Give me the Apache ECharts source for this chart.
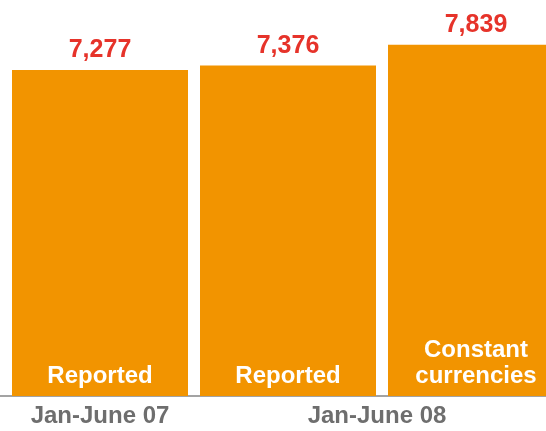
<!DOCTYPE html>
<html>
<head>
<meta charset="utf-8">
<style>
  html, body { margin: 0; padding: 0; background: #ffffff; }
  #chart { width: 546px; height: 431px; }
</style>
<script src="https://cdn.jsdelivr.net/npm/echarts@6/dist/echarts.min.js"></script>
</head>
<body>
<div id="chart"></div>
<script>
// ---- data ----
const categories = ['Jan-June 07', 'Jan-June 08', 'Jan-June 08'];
const measures = ['Reported', 'Reported', 'Constant\ncurrencies'];
const values = [7277, 7376, 7839];

const FONT = '"Liberation Sans", Arial, Helvetica, sans-serif';
const chart = echarts.init(document.getElementById('chart'), null, { renderer: 'canvas' });

chart.setOption({
  animation: false,
  backgroundColor: '#ffffff',
  grid: [
    { left: 6, right: -24, top: 0, bottom: 35, containLabel: false, outerBoundsMode: 'none' },
    { left: 0, right: 0, top: 0, bottom: 35, containLabel: false, outerBoundsMode: 'none' }
  ],
  xAxis: [
    {
      type: 'category', gridIndex: 0, data: categories,
      axisLine: { show: false }, axisTick: { show: false },
      axisLabel: {
        interval: 0, margin: 8, color: '#6e6e6e', fontSize: 24, fontWeight: 'bold', fontFamily: FONT,
        hideOverlap: false,
        formatter: function (v, i) {
          if (i === 0) return v;
          if (i === 1) return '{s|' + v + '}';
          return '';
        },
        rich: { s: { padding: [0, 0, 0, 178], color: '#6e6e6e', fontSize: 24, fontWeight: 'bold', fontFamily: FONT } }
      }
    },
    {
      type: 'value', gridIndex: 1, min: 0, max: 1,
      axisLine: { show: true, onZero: false, lineStyle: { color: '#a3a3a3', width: 2 } },
      axisTick: { show: false }, axisLabel: { show: false }, splitLine: { show: false }
    }
  ],
  yAxis: [
    { type: 'value', gridIndex: 0, min: 0, max: 8840, show: false },
    { type: 'value', gridIndex: 1, min: 0, max: 1, show: false }
  ],
  series: [
    {
      type: 'bar', xAxisIndex: 0, yAxisIndex: 0, data: values, barWidth: 176,
      itemStyle: { color: '#f29400' },
      label: {
        show: true, position: 'top', distance: 7,
        color: '#e6332a', fontSize: 25, fontWeight: 'bold', fontFamily: FONT,
        formatter: p => p.value.toLocaleString('en-US')
      }
    },
    {
      type: 'bar', xAxisIndex: 0, yAxisIndex: 0, data: values, barWidth: 176, barGap: '-100%',
      itemStyle: { color: 'rgba(0,0,0,0)' },
      label: {
        show: true, position: 'insideBottom', distance: 7,
        color: '#ffffff', fontSize: 24, fontWeight: 'bold', fontFamily: FONT, lineHeight: 26,
        formatter: p => measures[p.dataIndex]
      }
    }
  ]
});
</script>
</body>
</html>
